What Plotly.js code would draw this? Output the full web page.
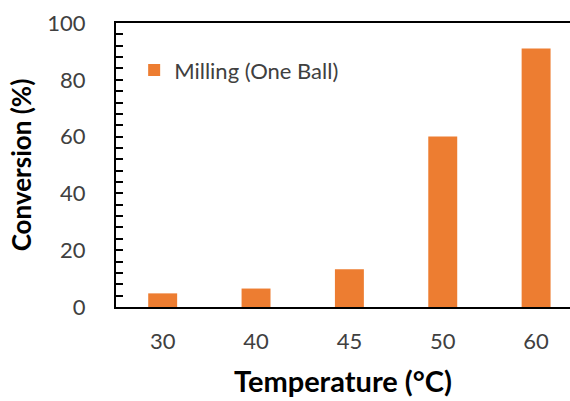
<!DOCTYPE html>
<html>
<head>
<meta charset="utf-8">
<script src="https://cdn.plot.ly/plotly-3.0.1.min.js"></script>
<style>html,body{margin:0;padding:0;background:#fff;}#chart{width:570px;height:401px;}</style>
</head>
<body>
<div id="chart"></div>
<script>
const categories = ["30", "40", "45", "50", "60"];
const conversion = [4.8, 6.5, 13.3, 60, 91];
const seriesName = "Milling (One Ball)";
const yTickVals = [0, 20, 40, 60, 80, 100];

const trace = {
  type: 'bar',
  x: categories,
  y: conversion,
  name: seriesName,
  width: 0.31,
  marker: {color: '#ED7D31'},
  showlegend: true
};

const layout = {
  width: 570, height: 401,
  margin: {l: 116, r: 0, t: 23, b: 94},
  paper_bgcolor: '#fff', plot_bgcolor: '#fff',
  font: {family: 'Lato, sans-serif', color: '#404040'},
  showlegend: true,
  legend: {x: 0.04, y: 0.834, xanchor: 'left', yanchor: 'middle',
    font: {size: 22, color: '#404040'}, bgcolor: 'rgba(0,0,0,0)', itemwidth: 30},
  xaxis: {
    type: 'category', range: [-0.5, 4.363],
    showline: true, linecolor: '#000', linewidth: 2, mirror: true,
    ticks: '', showgrid: false, zeroline: false,
    tickfont: {size: 22, color: '#404040'},
    ticklabelstandoff: 14,
    title: {text: 'Temperature (°C)', font: {size: 29, color: '#000', weight: 'bold'}, standoff: 18}
  },
  yaxis: {
    range: [0, 100], tickvals: yTickVals,
    showline: true, linecolor: '#000', linewidth: 2,
    ticks: 'inside', ticklen: 7, tickwidth: 2, tickcolor: '#000',
    minor: {dtick: 4, ticks: 'inside', ticklen: 7, tickwidth: 2, tickcolor: '#000', showgrid: false},
    showgrid: false, zeroline: false,
    tickfont: {size: 22, color: '#404040'},
    ticklabelstandoff: 24,
    title: {text: 'Conversion (%)', font: {size: 26, color: '#000', weight: 'bold'}, standoff: 8}
  }
};

Plotly.newPlot('chart', [trace], layout, {displayModeBar: false, staticPlot: true});
</script>
</body>
</html>
